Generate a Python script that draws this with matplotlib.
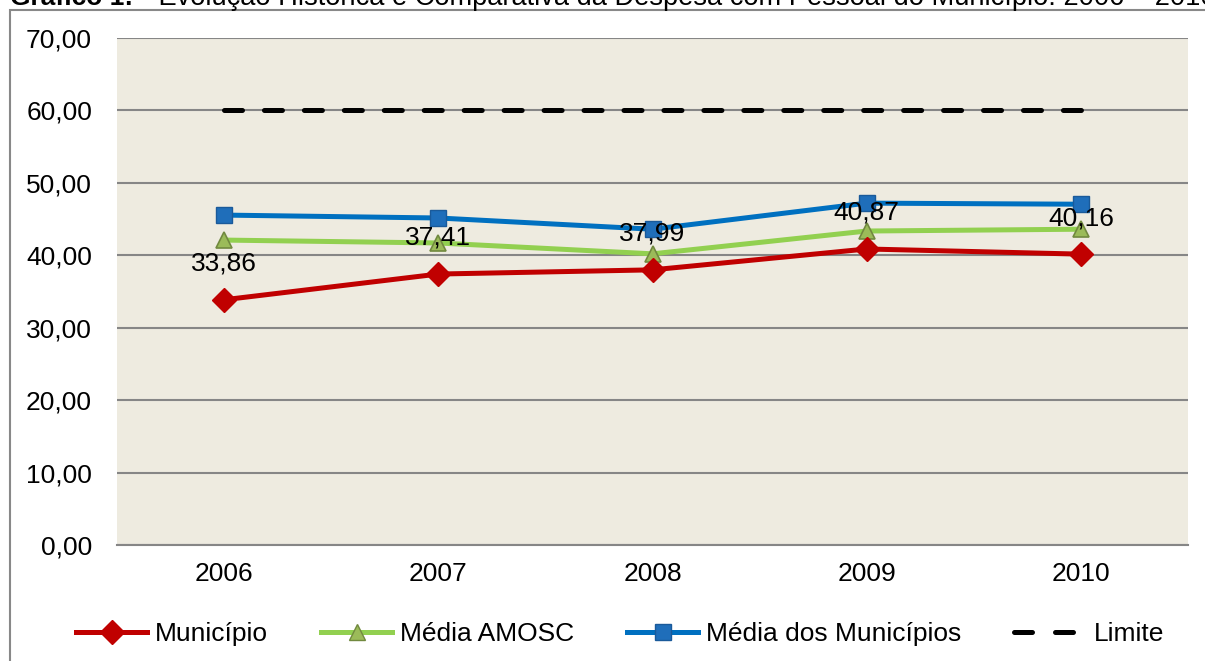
import matplotlib
matplotlib.use("Agg")
import matplotlib.pyplot as plt
from matplotlib.patches import Rectangle
from matplotlib.lines import Line2D

plt.rcParams['font.family'] = ['Liberation Sans', 'DejaVu Sans']

years = ["2006", "2007", "2008", "2009", "2010"]
municipio = [33.86, 37.41, 37.99, 40.87, 40.16]
media_amosc = [42.1, 41.7, 40.2, 43.35, 43.6]
media_municipios = [45.55, 45.15, 43.6, 47.2, 47.05]
limite = [60, 60, 60, 60, 60]
yticks = [0, 10, 20, 30, 40, 50, 60, 70]

W, H = 1205, 661
FS = 19
fig = plt.figure(figsize=(W / 100, H / 100), dpi=100)

# outer border (partially off-figure)
fig.patches.append(Rectangle((10 / W, -0.1), 1.2, 1 - 10 / H + 0.1, transform=fig.transFigure,
                             fill=False, edgecolor='#888888', linewidth=1.5, zorder=0))

# clipped title (cut off at the top, as in the reference)
fig.text(10 / W, 1 - 5 / H, "Gráfico 1:", fontsize=FS, fontweight='bold', va='baseline', ha='left')
fig.text(128 / W, 1 - 5 / H, " – Evolução Histórica e Comparativa da Despesa com Pessoal do Município: 2006 – 2010",
         fontsize=19.6, va='baseline', ha='left')

ax = fig.add_axes([117 / W, 1 - 545 / H, (1188 - 117) / W, (545 - 38) / H])
ax.set_facecolor('#EEEBE0')
x = list(range(len(years)))

lim_line, = ax.plot(x, limite, color='black', linewidth=3.6, dashes=(3.6, 4.39), zorder=3, label='Limite')
lim_line.set_dash_capstyle('round')
ax.plot(x, media_municipios, color='#0070C0', linewidth=3.6, marker='s', markersize=12,
        markerfacecolor='#1F6EBA', markeredgecolor='#1A5A9A', markeredgewidth=1, zorder=4,
        label='Média dos Municípios')
ax.plot(x, media_amosc, color='#92D050', linewidth=3.6, marker='^', markersize=12,
        markerfacecolor='#9BBB59', markeredgecolor='#71893F', markeredgewidth=1.2, zorder=5,
        label='Média AMOSC')
ax.plot(x, municipio, color='#C00000', linewidth=3.6, marker='D', markersize=12,
        markerfacecolor='#C00000', markeredgecolor='#C00000', zorder=6, label='Município')

for xi, v in zip(x, municipio):
    ax.annotate(f"{v:.2f}".replace('.', ','), (xi, v), xytext=(0, 26), textcoords='offset points',
                ha='center', va='center', fontsize=FS, zorder=7)

ax.set_xlim(-0.5, len(years) - 0.5)
ax.set_ylim(0, 70)
ax.set_yticks(yticks)
ax.set_yticklabels([f"{t:.2f}".replace('.', ',') for t in yticks], fontsize=FS)
ax.set_xticks(x)
ax.set_xticklabels(years, fontsize=FS)
ax.tick_params(axis='y', length=0, pad=18)
ax.tick_params(axis='x', length=0, pad=12)
ax.grid(axis='y', color='#868686', linewidth=1.5)
ax.set_axisbelow(True)
for s in ['left', 'right', 'top']:
    ax.spines[s].set_visible(False)
ax.spines['bottom'].set_color('#868686')
ax.spines['bottom'].set_linewidth(1.5)

lim_handle = Line2D([], [], color='black', linewidth=3.6, dashes=(3.6, 4.6))
lim_handle.set_dash_capstyle('round')
handles = [
    Line2D([], [], color='#C00000', linewidth=3.6, marker='D', markersize=12, markerfacecolor='#C00000'),
    Line2D([], [], color='#92D050', linewidth=3.6, marker='^', markersize=12,
           markerfacecolor='#9BBB59', markeredgecolor='#71893F'),
    Line2D([], [], color='#0070C0', linewidth=3.6, marker='s', markersize=12,
           markerfacecolor='#1F6EBA', markeredgecolor='#1A5A9A'),
    lim_handle,
]
labels = ['Município', 'Média AMOSC', 'Média dos Municípios', 'Limite']
fig.legend(handles, labels, loc='center', bbox_to_anchor=(620 / W, 1 - 634 / H), ncol=4,
           frameon=False, fontsize=FS, handlelength=2.7, handletextpad=0.3, columnspacing=2.0)

fig.savefig('out.png', dpi=100)
